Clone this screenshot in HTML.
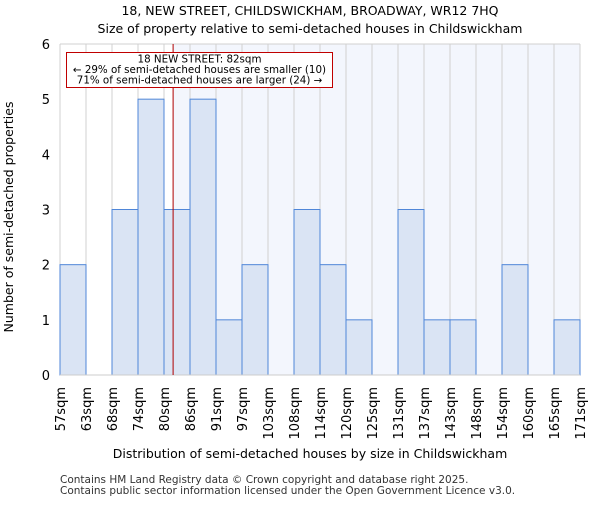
<!DOCTYPE html>
<html><head><meta charset="utf-8"><style>
body{margin:0;background:#fff}
svg{font-family:"DejaVu Sans","Liberation Sans",sans-serif}
</style></head><body>
<svg id="c" width="600" height="500" xmlns="http://www.w3.org/2000/svg">
<text x="310" y="15" font-size="12.5" text-anchor="middle">18, NEW STREET, CHILDSWICKHAM, BROADWAY, WR12 7HQ</text>
<text x="310" y="33" font-size="12.5" text-anchor="middle">Size of property relative to semi-detached houses in Childswickham</text>
<g id="plot"></g>
<text x="310" y="458" font-size="12.5" text-anchor="middle">Distribution of semi-detached houses by size in Childswickham</text>
<text transform="translate(13,217) rotate(-90)" font-size="12.5" text-anchor="middle">Number of semi-detached properties</text>
<text x="60" y="483" font-size="10.5" fill="#333">Contains HM Land Registry data © Crown copyright and database right 2025.</text>
<text x="60" y="494" font-size="10.5" fill="#333">Contains public sector information licensed under the Open Government Licence v3.0.</text>
</svg>
<script>
const labels=["57sqm","63sqm","68sqm","74sqm","80sqm","86sqm","91sqm","97sqm","103sqm","108sqm","114sqm","120sqm","125sqm","131sqm","137sqm","143sqm","148sqm","154sqm","160sqm","165sqm","171sqm"];
const counts=[2,0,3,5,3,5,1,2,0,3,2,1,0,3,1,1,0,2,0,1];
const yTicks=[0,1,2,3,4,5,6];
const markerBin=4.35;
const NS="http://www.w3.org/2000/svg";
const X0=60,X1=580,Y0=375,Y1=44,bw=(X1-X0)/counts.length;
const xs=i=>X0+i*bw, ys=v=>Y0-(v/6)*(Y0-Y1);
const g=document.getElementById('plot');
function el(t,a){const e=document.createElementNS(NS,t);for(const k in a)e.setAttribute(k,a[k]);g.appendChild(e);return e;}
const mx=xs(markerBin);
let r=el('rect',{x:mx,y:Y1,width:X1-mx,height:Y0-Y1,fill:'#f3f6fd'});


for(let i=0;i<=counts.length;i++){let l=el('line',{x1:xs(i),x2:xs(i),y1:Y1,y2:Y0,stroke:'#d0d0d0'});

}
el('line',{x1:X0,x2:X1,y1:Y1,y2:Y1,stroke:'#d0d0d0'});
counts.forEach((v,i)=>{if(!v)return;const b=el('rect',{x:xs(i),y:ys(v),width:bw,height:Y0-ys(v),fill:'#dae4f4',stroke:'#4f86d8','stroke-width':1});

});
el('line',{x1:X0,x2:X1,y1:Y0,y2:Y0,stroke:'#ccc'});
yTicks.forEach(t=>{const tx=el('text',{x:50,y:ys(t)+5,'font-size':13,'text-anchor':'end'});tx.textContent=t;

});
labels.forEach((s,i)=>{const tx=el('text',{transform:`translate(${xs(i)+5},387) rotate(-90)`,'font-size':13,'text-anchor':'end'});tx.textContent=s;

});
const ml=el('line',{x1:mx,x2:mx,y1:Y1,y2:Y0,stroke:'#b00000','stroke-width':1});


const box=el('rect',{x:66.5,y:52.5,width:266,height:35,fill:'#fff',stroke:'#c00000'});


["18 NEW STREET: 82sqm","← 29% of semi-detached houses are smaller (10)","71% of semi-detached houses are larger (24) →"].forEach((s,i)=>{const tx=el('text',{x:199.5,y:62.5+i*10.5,'font-size':10.3,'text-anchor':'middle'});tx.textContent=s;

});
</script>
</body></html>
